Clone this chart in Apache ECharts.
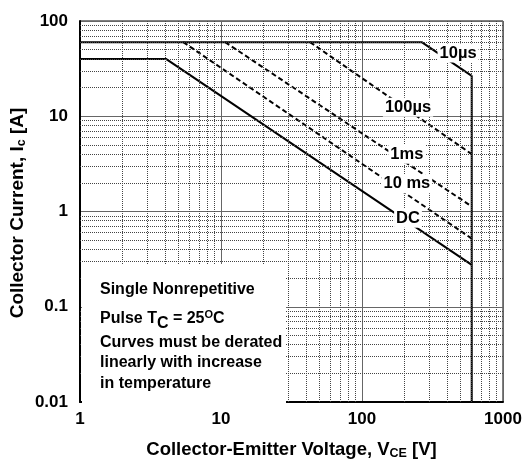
<!DOCTYPE html>
<html>
<head>
<meta charset="utf-8">
<script src="https://cdn.jsdelivr.net/npm/echarts@6/dist/echarts.min.js"></script>
<style>html,body{margin:0;padding:0;background:#fff}#main{width:525px;height:465px}</style>
</head>
<body>
<div id="main"></div>
<script>
var font = '"Liberation Sans", Arial, sans-serif'

// SOA boundaries, [Vce (V), Ic (A)]
var limit10us = [[1, 60], [265, 60], [600, 26.5], [600, 0.01]]
var curve100us = [[42.8, 60], [600, 4.0]]
var curve1ms = [[10.7, 60], [600, 1.13]]
var curve10ms = [[5.4, 60], [600, 0.52]]
var curveDC = [[1, 40], [4.07, 40], [600, 0.275]]

// curve labels and where they sit
var curveLabels = ['10µs', '100µs', '1ms', '10 ms', 'DC']
var labelPos = [[480, 46], [212, 12.4], [208, 4.0], [208, 1.95], [212, 0.85]]

var xTicks = [1, 10, 100, 1000]
var xTickLabels = ['1', '10', '100', '1000']
var yTicks = [0.01, 0.1, 1, 10, 100]
var yTickLabels = ['0.01', '0.1', '1', '10', '100']
var minorSteps = [2, 3, 4, 5, 6, 7, 8, 9]

var noteLines = [
	'{n|Single Nonrepetitive}',
	'{n|Pulse T}{sub|C}{n| = 25}{sup|O}{n|C}',
	'{n|Curves must be derated}',
	'{n|linearly with increase}',
	'{n|in temperature}'
]
var noteY = [290, 319, 343, 363, 384]

// minor grid (2..9 of each decade)
var minorLines = []
xTicks.slice(0, -1).forEach(function (d) {
	minorSteps.forEach(function (s) { minorLines.push({ xAxis: d * s }) })
})
yTicks.slice(0, -1).forEach(function (d) {
	minorSteps.forEach(function (s) { minorLines.push({ yAxis: d * s }) })
})

function tickName(list, names, v) {
	var best = 0
	for (var i = 0; i < list.length; i++) {
		if (Math.abs(Math.log10(v) - Math.log10(list[i])) < Math.abs(Math.log10(v) - Math.log10(list[best]))) best = i
	}
	return names[best]
}

var richNote = {
	n: { fontSize: 16, fontWeight: 'bold', fontFamily: font, color: '#000' },
	sub: { fontSize: 16, fontWeight: 'bold', fontFamily: font, color: '#000', padding: [10, 0, 0, 0] },
	sup: { fontSize: 11, fontWeight: 'bold', fontFamily: font, color: '#000', padding: [0, 0, 9, 0] }
}

var graphics = [{
	type: 'rect', z: 100,
	shape: { x: 82, y: 264, width: 204, height: 141 },
	style: { fill: '#fff' }
}, {
	type: 'text', z: 101, x: 18, y: 213, rotation: Math.PI / 2,
	style: {
		text: '{n|Collector Current, I}{s|c}{n| [A]}',
		align: 'center', verticalAlign: 'middle',
		rich: {
			n: { fontSize: 19, fontWeight: 'bold', fontFamily: font, color: '#000' },
			s: { fontSize: 12.5, fontWeight: 'bold', fontFamily: font, color: '#000', padding: [7, 0, 0, 0] }
		}
	}
}]
noteLines.forEach(function (t, i) {
	graphics.push({
		type: 'text', z: 101, x: 100, y: noteY[i],
		style: { text: t, align: 'left', verticalAlign: 'middle', rich: richNote }
	})
})

function curve(data, dashed) {
	return {
		type: 'line', data: data, showSymbol: false, z: 3,
		lineStyle: { color: '#000', width: 2, type: dashed ? [5, 3] : 'solid' }
	}
}

var myChart = echarts.init(document.getElementById('main'))
var option = {
	animation: false,
	backgroundColor: '#fff',
	grid: { left: 80, right: 22, top: 21, bottom: 59, show: true, borderColor: '#000', borderWidth: 1 },
	xAxis: {
		type: 'log', logBase: 10, min: 1, max: 1000,
		name: '{n|Collector-Emitter Voltage, V}{s|CE}{n| [V]}',
		nameLocation: 'middle', nameGap: 38,
		nameTextStyle: {
			rich: {
				n: { fontSize: 18.5, fontWeight: 'bold', fontFamily: font, color: '#000' },
				s: { fontSize: 12.5, fontWeight: 'bold', fontFamily: font, color: '#000', padding: [7, 0, 0, 0] }
			}
		},
		axisLine: { lineStyle: { color: '#000', width: 2 } },
		axisTick: { show: false },
		axisLabel: {
			margin: 9, fontSize: 17, fontWeight: 'bold', fontFamily: font, color: '#000',
			formatter: function (v) { return tickName(xTicks, xTickLabels, v) }
		},
		splitLine: { show: true, lineStyle: { color: '#666', width: 1 } }
	},
	yAxis: {
		type: 'log', logBase: 10, min: 0.01, max: 100,
		axisLine: { lineStyle: { color: '#000', width: 2 } },
		axisTick: { show: false },
		axisLabel: {
			margin: 12, fontSize: 17, fontWeight: 'bold', fontFamily: font, color: '#000',
			formatter: function (v) { return tickName(yTicks, yTickLabels, v) }
		},
		splitLine: { show: true, lineStyle: { color: '#666', width: 1 } }
	},
	graphic: graphics,
	series: [{
		type: 'line', data: [], z: 1, silent: true,
		markLine: {
			silent: true, symbol: 'none', animation: false,
			label: { show: false },
			lineStyle: { color: '#444', width: 1, type: 'dotted' },
			data: minorLines
		}
	},
	curve(limit10us, false),
	curve(curve100us, true),
	curve(curve1ms, true),
	curve(curve10ms, true),
	curve(curveDC, false),
	{
		type: 'scatter', data: labelPos, symbolSize: 0, z: 5, silent: true,
		itemStyle: { opacity: 1, color: '#000' },
		label: {
			show: true, position: 'inside', backgroundColor: '#fff', padding: [1, 2],
			fontSize: 16.5, fontWeight: 'bold', fontFamily: font, color: '#000', opacity: 1,
			formatter: function (p) { return curveLabels[p.dataIndex] }
		}
	}]
}
myChart.setOption(option)
</script>
</body>
</html>
